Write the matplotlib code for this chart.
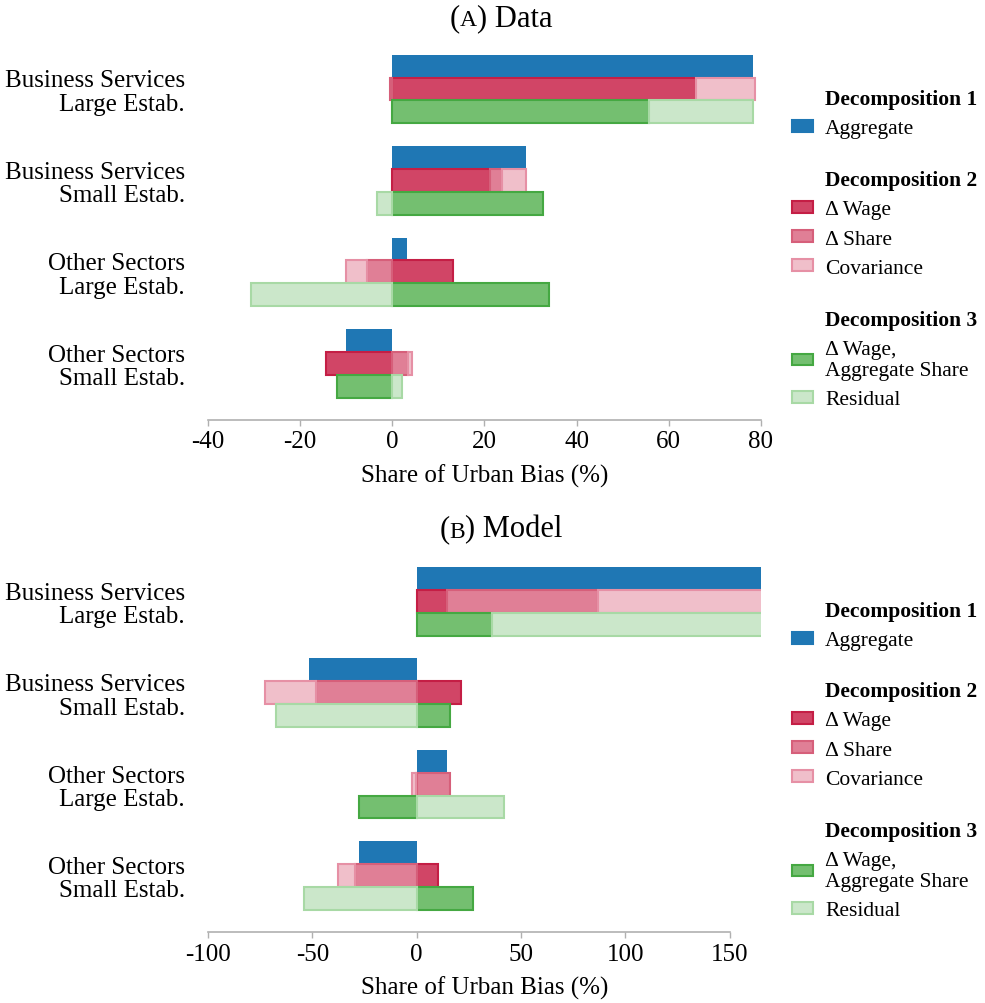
import numpy as np
import matplotlib
matplotlib.use("Agg")
import matplotlib.pyplot as plt
from matplotlib.patches import Patch
from matplotlib.offsetbox import TextArea, HPacker, AnchoredOffsetbox

plt.rcParams['font.family'] = ['Liberation Serif', 'DejaVu Serif']
plt.rcParams['axes.unicode_minus'] = False

# row labels
rows = ['Business Services\nLarge Estab.', 'Business Services\nSmall Estab.',
        'Other Sectors\nLarge Estab.', 'Other Sectors\nSmall Estab.']

# (A) Data, share of urban bias in %
agg_data = [78.3, 29.1, 3.1, -10.1]
wage_data = [66.0, 21.3, 13.1, -14.3]
share_data = [-0.6, 2.5, -5.4, 3.3]
cov_data = [12.8, 5.3, -4.6, 1.0]
wage_agg_data = [55.8, 32.6, 33.9, -12.1]
resid_data = [22.4, -3.4, -30.7, 2.1]

# (B) Model
agg_model = [170.0, -51.8, 14.3, -27.5]
wage_model = [14.7, 21.4, -0.4, 10.4]
share_model = [72.3, -48.3, 16.1, -29.5]
cov_model = [83.0, -24.6, -1.7, -8.1]
wage_agg_model = [36.3, 15.8, -27.5, 26.8]
resid_model = [133.7, -67.2, 41.8, -54.1]

data_ticks = [-40, -20, 0, 20, 40, 60, 80]
model_ticks = [-100, -50, 0, 50, 100, 150]

# colours (face, edge)
BLUE = ('#1f77b4', '#1f77b4')
WAGE = ('#d14566', '#c41e45')
SHARE = ('#e07f96', '#d65f7a')
COV = ('#f0bfca', '#e690a5')
GREEN = ('#74bf70', '#45a842')
RESID = ('#cbe7ca', '#a8d9a5')

H = 0.25
LW = 1.5
FS = 18


def stack(ax, y, series):
    pos = np.zeros(len(y))
    neg = np.zeros(len(y))
    for vals, (fc, ec) in series:
        vals = np.asarray(vals, dtype=float)
        left = np.where(vals >= 0, pos, neg)
        ax.barh(y, vals, left=left, height=H, facecolor=fc, edgecolor=ec, linewidth=LW)
        pos += np.clip(vals, 0, None)
        neg += np.clip(vals, None, 0)


def draw_panel(ax, agg, wage, share, cov, wage_agg, resid, xlim, ticks):
    y = np.arange(len(rows))
    ax.barh(y - H, agg, height=H, color=BLUE[0], linewidth=0)
    stack(ax, y, [(wage, WAGE), (share, SHARE), (cov, COV)])
    stack(ax, y + H, [(wage_agg, GREEN), (resid, RESID)])

    ax.set_xlim(*xlim)
    ax.set_ylim(3.62, -0.62)
    ax.set_yticks(y)
    ax.set_yticklabels(rows, fontsize=FS, linespacing=1.08, ha='right')
    ax.tick_params(axis='y', length=0, pad=16.5)
    ax.set_xticks(ticks)
    ax.set_xticklabels([str(t) for t in ticks], fontsize=FS)
    ax.tick_params(axis='x', length=4.5, width=1, color='#b0b0b0', pad=3)
    for s in ['top', 'right', 'left']:
        ax.spines[s].set_visible(False)
    ax.spines['bottom'].set_bounds(ticks[0], ticks[-1])
    ax.spines['bottom'].set_color('#b0b0b0')
    ax.spines['bottom'].set_linewidth(1.2)
    ax.set_xlabel('Share of Urban Bias (%)', fontsize=FS, labelpad=8)


def patch(c):
    return Patch(facecolor=c[0], edgecolor=c[1], linewidth=LW)


def legend_group(fig, top_px, header, items):
    blank = Patch(facecolor='none', edgecolor='none')
    handles = [blank] + [patch(c) for _, c in items]
    labels = [header] + [lab for lab, _ in items]
    leg = fig.legend(handles, labels, loc='upper left',
                     bbox_to_anchor=(792 / 985, 1 - top_px / 1004),
                     frameon=False, fontsize=15.5, handlelength=0.97,
                     handleheight=0.46, handletextpad=0.56, labelspacing=0.48,
                     borderpad=0, borderaxespad=0)
    texts = leg.get_texts()
    texts[0].set_fontweight('bold')
    for t in texts:
        t.set_linespacing(1.12)


def make_legend(fig, tops):
    legend_group(fig, tops[0], 'Decomposition 1', [('Aggregate', BLUE)])
    legend_group(fig, tops[1], 'Decomposition 2',
                 [('\u0394 Wage', WAGE), ('\u0394 Share', SHARE), ('Covariance', COV)])
    legend_group(fig, tops[2], 'Decomposition 3',
                 [('\u0394 Wage,\nAggregate Share', GREEN), ('Residual', RESID)])


def small_caps_title(fig, x, y, letter, rest):
    parts = [TextArea('(', textprops=dict(fontsize=22)),
             TextArea(letter, textprops=dict(fontsize=17)),
             TextArea(') ' + rest, textprops=dict(fontsize=22))]
    box = HPacker(children=parts, align='baseline', pad=0, sep=0)
    anchored = AnchoredOffsetbox(loc='center', child=box, frameon=False,
                                 bbox_to_anchor=(x, y),
                                 bbox_transform=fig.transFigure, pad=0, borderpad=0)
    fig.add_artist(anchored)


fig = plt.figure(figsize=(9.85, 10.04), dpi=100)
ax1 = fig.add_axes([208 / 985, 1 - 421 / 1004, 553 / 985, 387.7 / 1004])
ax2 = fig.add_axes([208 / 985, 1 - 933.3 / 1004, 553 / 985, 387.7 / 1004])

draw_panel(ax1, agg_data, wage_data, share_data, cov_data, wage_agg_data,
           resid_data, (-40, 80), data_ticks)
draw_panel(ax2, agg_model, wage_model, share_model, cov_model, wage_agg_model,
           resid_model, (-100, 165), model_ticks)

small_caps_title(fig, 501 / 985, 1 - 18.5 / 1004, 'A', 'Data')
small_caps_title(fig, 501 / 985, 1 - 530 / 1004, 'B', 'Model')

make_legend(fig, [90, 171, 311])
make_legend(fig, [602, 682, 822])

fig.savefig('out.png', dpi=100)
